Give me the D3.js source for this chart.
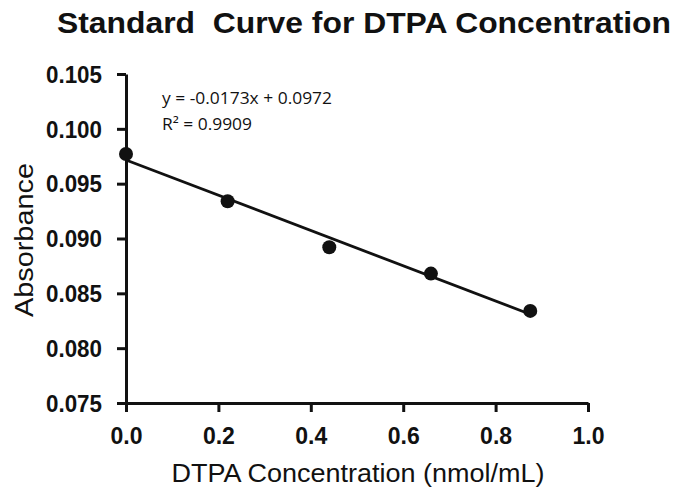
<!DOCTYPE html>
<html><head><meta charset="utf-8">
<script src="https://cdn.jsdelivr.net/npm/d3@7"></script>
<style>body{margin:0;background:#fff;} svg{display:block;}</style>
</head><body>
<script>
const concentration = [0, 0.22, 0.44, 0.66, 0.875];
const absorbance = [0.0977, 0.0934, 0.0892, 0.0868, 0.0834];
const xTicks = [0, 0.2, 0.4, 0.6, 0.8, 1.0];
const yTicks = [0.075, 0.080, 0.085, 0.090, 0.095, 0.100, 0.105];
const title = "Standard\u00a0 Curve for DTPA Concentration";
const xLabel = "DTPA Concentration (nmol/mL)";
const yLabel = "Absorbance";
const eqLines = ["y = -0.0173x + 0.0972", "R² = 0.9909"];

const W = 683, H = 501;
const m = {left: 126, right: 95, top: 74, bottom: 98};
const svg = d3.select("body").append("svg").attr("width", W).attr("height", H);
const x = d3.scaleLinear().domain([0, 1]).range([m.left, W - m.right]);
const y = d3.scaleLinear().domain([0.075, 0.105]).range([H - m.bottom, m.top]);
const font = "'Liberation Sans', Arial, sans-serif";

// regression
const mx = d3.mean(concentration), my = d3.mean(absorbance);
let sxy = 0, sxx = 0;
concentration.forEach((c, i) => { sxy += (c - mx) * (absorbance[i] - my); sxx += (c - mx) ** 2; });
const slope = sxy / sxx, icpt = my - slope * mx;
const ext = d3.extent(concentration);
svg.append("line")
  .attr("x1", x(ext[0])).attr("y1", y(icpt + slope * ext[0]))
  .attr("x2", x(ext[1])).attr("y2", y(icpt + slope * ext[1]))
  .attr("stroke", "#111").attr("stroke-width", 2.8);

svg.append("g").selectAll("circle").data(concentration).join("circle")
  .attr("cx", d => x(d)).attr("cy", (d, i) => y(absorbance[i])).attr("r", 7).attr("fill", "#111");

const xAxis = svg.append("g").attr("transform", `translate(0,${H - m.bottom})`)
  .call(d3.axisBottom(x).tickValues(xTicks).tickFormat(d3.format(".1f")).tickSize(9).tickSizeOuter(0));
const yAxis = svg.append("g").attr("transform", `translate(${m.left},0)`)
  .call(d3.axisLeft(y).tickValues(yTicks).tickFormat(d3.format(".3f")).tickSize(9).tickSizeOuter(0));
[xAxis, yAxis].forEach(g => {
  g.select(".domain").attr("stroke", "#111").attr("stroke-width", 3);
  g.selectAll(".tick line").attr("stroke", "#111").attr("stroke-width", 3);
  g.selectAll(".tick text").attr("fill", "#111").style("font-family", font)
    .style("font-size", "23px").style("font-weight", "bold").attr("lengthAdjust", "spacingAndGlyphs");
});
xAxis.selectAll(".tick text").attr("dy", "0").attr("y", 41).attr("textLength", 32);
yAxis.selectAll(".tick text").attr("x", -24).attr("dy", "0.36em").attr("textLength", 56);

svg.append("text").attr("x", 364).attr("y", 33).attr("text-anchor", "middle")
  .style("font-family", font).style("font-size", "30px").style("font-weight", "bold")
  .attr("textLength", 614).attr("lengthAdjust", "spacingAndGlyphs")
  .attr("fill", "#111").text(title);
svg.append("text").attr("x", 358).attr("y", 482).attr("text-anchor", "middle")
  .style("font-family", font).style("font-size", "26px").style("font-weight", "500")
  .attr("textLength", 373).attr("lengthAdjust", "spacingAndGlyphs")
  .attr("fill", "#111").text(xLabel);
svg.append("text").attr("transform", `translate(33,240) rotate(-90)`)
  .attr("text-anchor", "middle")
  .style("font-family", font).style("font-size", "25px")
  .attr("textLength", 154).attr("lengthAdjust", "spacingAndGlyphs")
  .attr("fill", "#111").text(yLabel);

const eqLen = [170, 90];
svg.append("g").selectAll("text").data(eqLines).join("text")
  .attr("x", 162).attr("y", (d, i) => 104 + i * 26)
  .style("font-family", "'Open Sans', sans-serif").style("font-size", "16px").attr("fill", "#111")
  .attr("textLength", (d, i) => eqLen[i]).attr("lengthAdjust", "spacingAndGlyphs")
  .text(d => d);
</script>
</body></html>
